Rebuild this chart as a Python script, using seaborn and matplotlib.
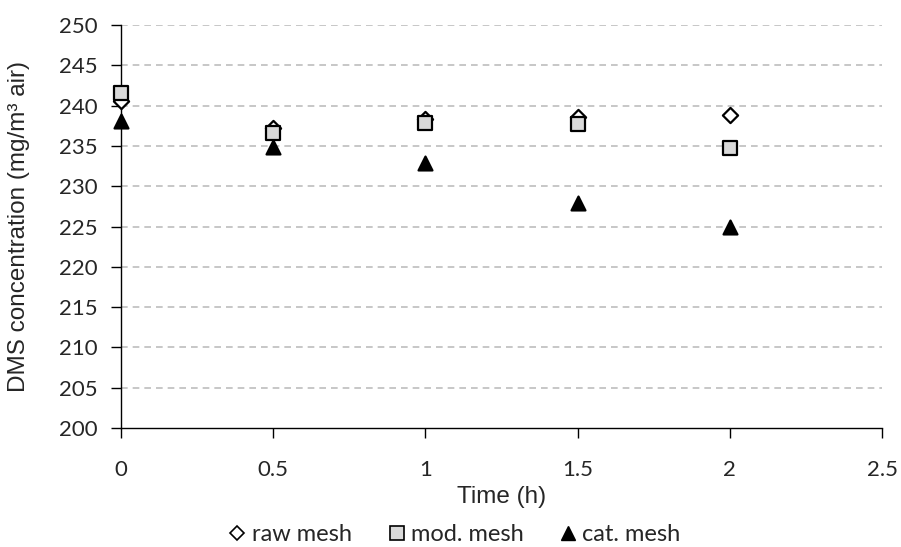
import matplotlib
matplotlib.use("Agg")
import matplotlib.pyplot as plt
import seaborn as sns
import pandas as pd
from matplotlib.lines import Line2D

# Sampling times (h)
time_h = [0, 0.5, 1, 1.5, 2]

# DMS concentration in mg/m3 air for each mesh type
raw_mesh = [240.6, 237.2, 238.4, 238.6, 238.8]
mod_mesh = [241.6, 236.6, 237.8, 237.7, 234.8]
cat_mesh = [238.1, 234.9, 232.9, 227.9, 225.0]

series_names = ["raw mesh", "mod. mesh", "cat. mesh"]
x_ticks = [0, 0.5, 1, 1.5, 2, 2.5]
y_ticks = list(range(200, 251, 5))

sns.set_theme(style="white")
plt.rcParams["font.family"] = ["Lato", "DejaVu Sans"]

fig = plt.figure(figsize=(9.01, 5.47), dpi=100)
ax = fig.add_axes([0.1343, 0.2175, 0.8447, 0.7368])

styles = {
    "raw mesh": dict(marker="D", color="white", s=60),
    "mod. mesh": dict(marker="s", color="#d9d9d9", s=95),
    "cat. mesh": dict(marker="^", color="black", s=100),
}

for name, vals, z in zip(series_names, [raw_mesh, mod_mesh, cat_mesh], [5, 6, 7]):
    df = pd.DataFrame({"Time (h)": time_h, "DMS": vals})
    st = styles[name]
    sns.scatterplot(data=df, x="Time (h)", y="DMS", ax=ax, marker=st["marker"],
                    color=st["color"], s=st["s"], edgecolor="black", linewidth=1.6,
                    zorder=z, clip_on=False, legend=False)

ax.set_xlim(0, 2.5)
ax.set_ylim(200, 250)
ax.set_xticks(x_ticks)
ax.set_xticklabels([f"{t:g}" for t in x_ticks])
ax.set_yticks(y_ticks)
ax.set_yticklabels([str(v) for v in y_ticks])

for v in y_ticks[1:]:
    ax.axhline(v, color="#bdbdbd", linestyle=(0, (4, 3)), linewidth=1.2, zorder=1)

for side in ["top", "right"]:
    ax.spines[side].set_visible(False)
for side in ["left", "bottom"]:
    ax.spines[side].set_color("black")
    ax.spines[side].set_linewidth(1.0)
    ax.spines[side].set_zorder(3)

ax.tick_params(axis="both", which="major", direction="out", length=7, width=1,
               color="black", labelsize=16, bottom=True, left=True)
ax.tick_params(axis="x", pad=16)
ax.tick_params(axis="y", pad=10)

label_font = dict(family=["Liberation Sans", "DejaVu Sans"], size=17.5)
ax.set_xlabel("Time (h)", fontdict=label_font)
ax.set_ylabel("DMS concentration (mg/m³ air)", fontdict=label_font)
ax.xaxis.set_label_coords(0.5, -0.143)
ax.yaxis.set_label_coords(-0.12, 0.5)

handles = [
    Line2D([], [], linestyle="none", marker="D", markersize=7.5, markerfacecolor="white",
           markeredgecolor="black", markeredgewidth=1.2),
    Line2D([], [], linestyle="none", marker="s", markersize=10, markerfacecolor="#d9d9d9",
           markeredgecolor="black", markeredgewidth=1.2),
    Line2D([], [], linestyle="none", marker="^", markersize=10, markerfacecolor="black",
           markeredgecolor="black"),
]
fig.legend(handles, series_names, loc="center", bbox_to_anchor=(0.503, 0.022), ncol=3,
           frameon=False, fontsize=17, handletextpad=0.1, columnspacing=1.4,
           handlelength=1.0)

fig.savefig("out.png", dpi=100)
